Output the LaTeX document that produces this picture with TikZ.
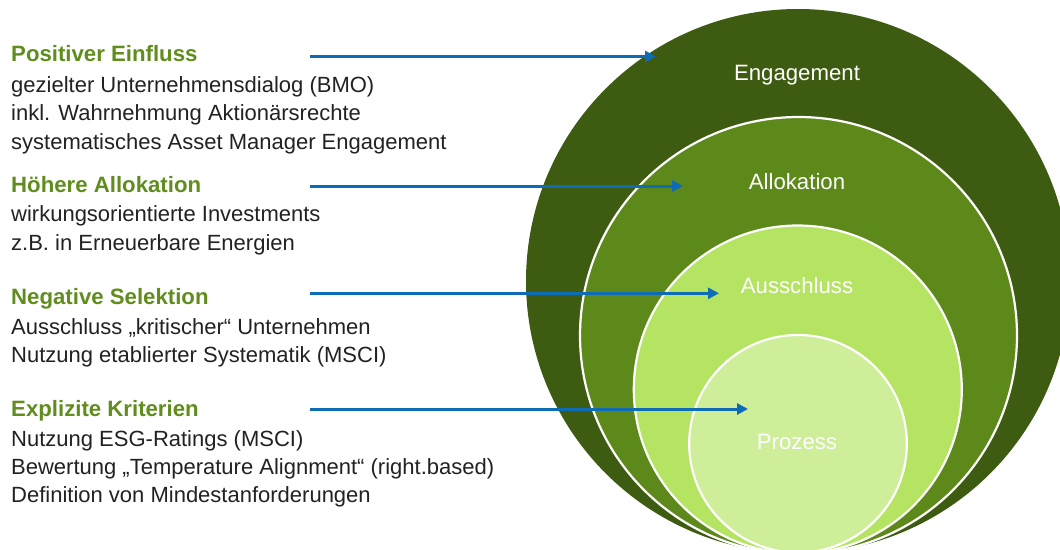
\documentclass[tikz,border=0pt]{standalone}
\usepackage{fontspec}
\setmainfont{Liberation Sans}
\usetikzlibrary{arrows.meta}
\definecolor{cEng}{RGB}{61,92,17}
\definecolor{cAll}{RGB}{93,137,26}
\definecolor{cAus}{RGB}{181,228,99}
\definecolor{cPro}{RGB}{206,238,154}
\definecolor{cArrow}{RGB}{14,107,182}
\definecolor{cHead}{RGB}{96,141,30}
\definecolor{cBody}{RGB}{34,34,34}
\tikzset{
  head/.style={anchor=base west, inner sep=0pt, font=\fontsize{22.2}{26}\selectfont\bfseries, text=cHead},
  body/.style={anchor=base west, inner sep=0pt, font=\fontsize{22}{26}\selectfont, text=cBody},
  ringlabel/.style={anchor=base, inner sep=0pt, font=\fontsize{22.2}{26}\selectfont, text=white},
  ring/.style={draw=white, line width=2.2pt},
  pointer/.style={draw=cArrow, line width=3pt, -{Triangle[length=11pt,width=11pt]}}
}
\begin{document}
\begin{tikzpicture}[x=1pt,y=-1pt]
\useasboundingbox (0,0) rectangle (1060,549);
\fill[white] (0,0) rectangle (1060,549);
\clip (0,0) rectangle (1060,549);
% circles
\fill[cEng] (798,281) circle[radius=272pt];
\path[ring, fill=cAll] (798.5,335.5) circle[radius=218.5pt];
\path[ring, fill=cAus] (797.8,389.5) circle[radius=164pt];
\path[ring, fill=cPro] (798,443.8) circle[radius=108.8pt];
% ring labels
\node[ringlabel] (lEng) at (797,80.5) {Engagement};
\node[ringlabel] (lAll) at (797,189) {Allokation};
\node[ringlabel] (lAus) at (797,293) {Ausschluss};
\node[ringlabel] (lPro) at (797,449.3) {Prozess};
% left texts
\node[head] (h1) at (11,61.7) {Positiver Einfluss};
\node[body] (b11) at (11,92.7) {gezielter Unternehmensdialog (BMO)};
\node[body] (b12) at (11,120.7) {inkl. Wahrnehmung Aktionärsrechte};
\node[body] (b13) at (11,149) {systematisches Asset Manager Engagement};
\node[head] (h2) at (11,192.3) {Höhere Allokation};
\node[body] (b21) at (11,221.7) {wirkungsorientierte Investments};
\node[body] (b22) at (11,250.7) {z.B. in Erneuerbare Energien};
\node[head] (h3) at (11,304.3) {Negative Selektion};
\node[body] (b31) at (11,334) {Ausschluss „kritischer“ Unternehmen};
\node[body] (b32) at (11,362.7) {Nutzung etablierter Systematik (MSCI)};
\node[head] (h4) at (11,416.7) {Explizite Kriterien};
\node[body] (b41) at (11,446) {Nutzung ESG-Ratings (MSCI)};
\node[body] (b42) at (11,474) {Bewertung „Temperature Alignment“ (right.based)};
\node[body] (b43) at (11,502.3) {Definition von Mindestanforderungen};
% arrows
\coordinate (s1) at (310,56.5);  \coordinate (e1) at (656,56.5);
\coordinate (s2) at (310,186);   \coordinate (e2) at (683,186);
\coordinate (s3) at (310,293.3); \coordinate (e3) at (719,293.3);
\coordinate (s4) at (310,409);   \coordinate (e4) at (748,409);
\draw[pointer] (s1) -- (e1);
\draw[pointer] (s2) -- (e2);
\draw[pointer] (s3) -- (e3);
\draw[pointer] (s4) -- (e4);
\end{tikzpicture}
\end{document}
